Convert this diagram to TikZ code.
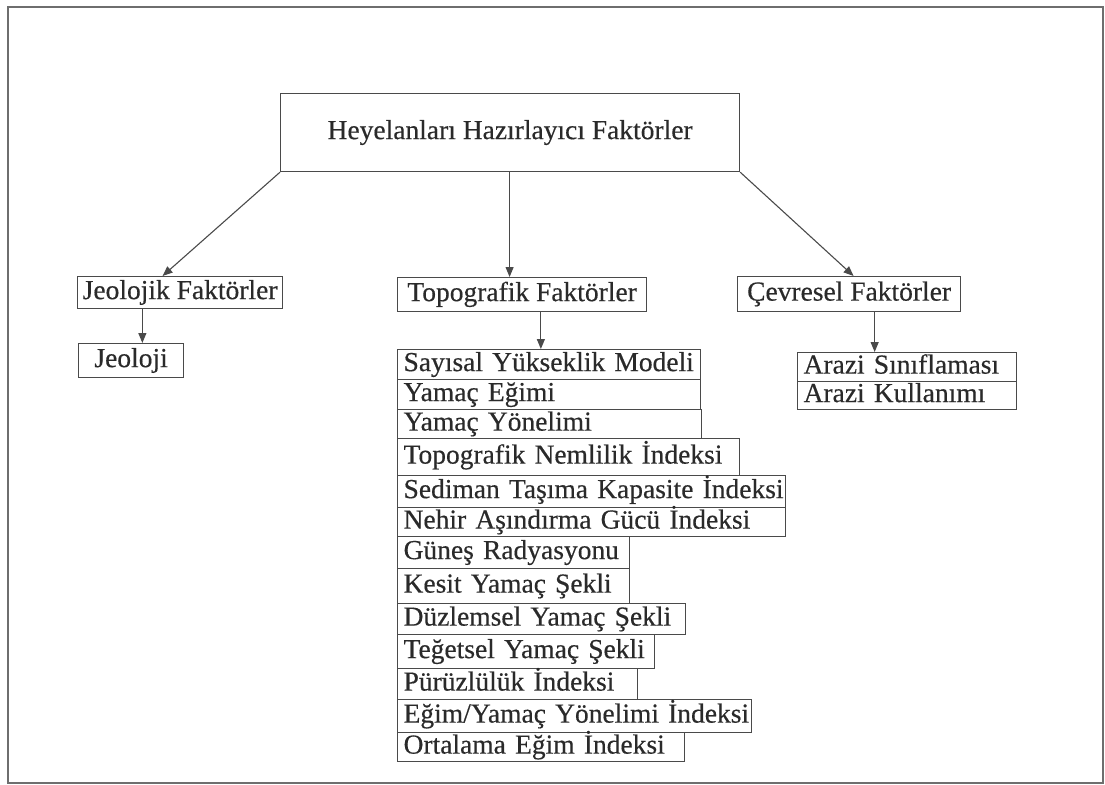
\documentclass[tikz,border=0pt]{standalone}
\usepackage{fontspec}
\setmainfont{Liberation Serif}
\newfontfamily\diagfont{Liberation Serif}[FakeBold=0.4]
\usetikzlibrary{arrows.meta,calc}
\definecolor{linec}{HTML}{4A4A4A}
\definecolor{txtc}{HTML}{2A2A2A}
\tikzset{
 box/.style={draw=linec, line width=1.2pt, inner sep=0pt, text=txtc,
   font=\diagfont\fontsize{27.5}{30}\selectfont, text height=19pt, text depth=6pt},
 itembox/.style={box, anchor=north west, align=left, inner xsep=6pt},
 arr/.style={draw=linec, line width=1.1pt, -{Triangle[length=10pt,width=8pt]}},
 frame/.style={draw=linec!80, line width=1.5pt},
}
\newcommand\listbox[6]{%
 \pgfmathsetmacro\bw{#4-#2}\pgfmathsetmacro\bh{#5-#3}\pgfmathsetmacro\tw{#4-#2-12}%
 \node[itembox, minimum width=\bw pt, minimum height=\bh pt, text width=\tw pt] (#1) at (#2,#3) {\mbox{#6}};}
\newcommand\cbox[6]{%
 \pgfmathsetmacro\bw{#4-#2}\pgfmathsetmacro\bh{#5-#3}%
 \node[box, anchor=north west, minimum width=\bw pt, minimum height=\bh pt] (#1) at (#2,#3) {#6};}
\begin{document}
\begin{tikzpicture}[x=1pt,y=-1pt]
\useasboundingbox (0,0) rectangle (1105,784);
\draw[frame] (8,7) rectangle (1103,783);
% top
\cbox{top}{280}{93}{739}{171}{Heyelanları Hazırlayıcı Faktörler}
% level 2
\cbox{jf}{77}{276}{282}{308}{Jeolojik Faktörler}
\cbox{tf}{397}{277}{646}{311}{Topografik Faktörler}
\cbox{cf}{737}{276}{960}{311}{Çevresel Faktörler}
% level 3
\cbox{jl}{78}{343}{183}{377}{Jeoloji}
\listbox{l1}{397}{349}{700}{379}{Sayısal Yükseklik Modeli}
\listbox{l2}{397}{379}{700}{409}{Yamaç Eğimi}
\listbox{l3}{397}{409}{701}{438}{Yamaç Yönelimi}
\listbox{l4}{397}{438}{739}{475}{Topografik Nemlilik İndeksi}
\listbox{l5}{397}{475}{785}{507}{Sediman Taşıma Kapasite İndeksi}
\listbox{l6}{397}{507}{785}{536}{Nehir Aşındırma Gücü İndeksi}
\listbox{l7}{397}{536}{629}{568}{Güneş Radyasyonu}
\listbox{l8}{397}{568}{629}{603}{Kesit Yamaç Şekli}
\listbox{l9}{397}{603}{685}{634}{Düzlemsel Yamaç Şekli}
\listbox{l10}{397}{634}{654}{668}{Teğetsel Yamaç Şekli}
\listbox{l11}{397}{668}{637}{699}{Pürüzlülük İndeksi}
\listbox{l12}{397}{699}{751}{732}{Eğim/Yamaç Yönelimi İndeksi}
\listbox{l13}{397}{732}{684}{761}{Ortalama Eğim İndeksi}
\listbox{ar1}{797}{352}{1016}{381}{Arazi Sınıflaması}
\listbox{ar2}{797}{381}{1016}{409}{Arazi Kullanımı}
% connectors
\coordinate (a1) at ($(jf.north west)!0.415!(jf.north east)$);
\coordinate (a2) at ($(tf.north west)!0.45!(tf.north east)$);
\coordinate (a3) at ($(cf.north west)!0.52!(cf.north east)$);
\draw[arr] (top.south west) -- (a1);
\draw[arr] (a2 |- top.south) -- (a2);
\draw[arr] (top.south east) -- (a3);
\coordinate (b1) at ($(jf.south west)!0.317!(jf.south east)$);
\coordinate (b2) at ($(tf.south west)!0.575!(tf.south east)$);
\coordinate (b3) at ($(cf.south west)!0.614!(cf.south east)$);
\draw[arr] (b1) -- (b1 |- jl.north);
\draw[arr] (b2) -- (b2 |- l1.north);
\draw[arr] (b3) -- (b3 |- ar1.north);
\end{tikzpicture}
\end{document}
